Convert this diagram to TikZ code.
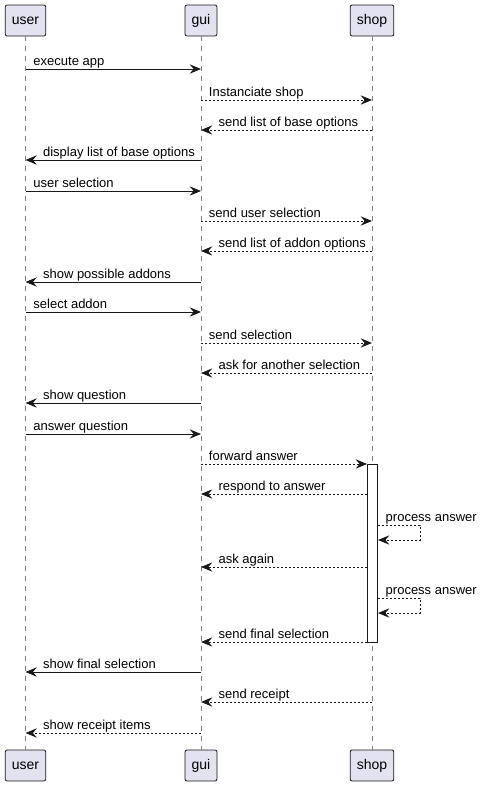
\documentclass[tikz,border=0pt]{standalone}
\usepackage{fontspec}
\setmainfont{Liberation Sans}
\usetikzlibrary{arrows.meta}
\definecolor{pfill}{RGB}{226,226,240}
\definecolor{ink}{RGB}{24,24,24}
\begin{document}
\begin{tikzpicture}[x=0.75pt,y=-0.75pt,
  part/.style={draw=ink,fill=pfill,rounded corners=1.5pt,line width=0.6pt,
    minimum height=23.25pt,inner xsep=5pt,font=\fontsize{10.5}{12}\selectfont},
  life/.style={draw=ink!55,line width=0.6pt,dash pattern=on 3.75pt off 3.75pt},
  sol/.style={draw=ink,line width=0.75pt,-{Stealth[length=8.5pt,width=7pt,inset=3pt]}},
  dsh/.style={sol,dash pattern=on 1.5pt off 1.5pt},
  lblr/.style={anchor=base west,inner sep=0pt,font=\fontsize{9.75}{12}\selectfont,xshift=5.6pt,yshift=3pt},
  lbll/.style={anchor=base west,inner sep=0pt,font=\fontsize{9.75}{12}\selectfont,xshift=12.8pt,yshift=3pt},
  act/.style={draw=ink,fill=white,line width=0.75pt}]
\useasboundingbox (0,0) rectangle (481,786);
% participants
\node[part] (u1) at (25.5,20.5) {user};
\node[part] (g1) at (201,20.5) {gui};
\node[part] (s1) at (372,20.5) {shop};
\node[part] (u2) at (25.5,765.5) {user};
\node[part] (g2) at (201,765.5) {gui};
\node[part] (s2) at (372,765.5) {shop};
\draw[life] (u1) -- (u2);
\draw[life] (g1) -- (g2);
\draw[life] (s1) -- (s2);
% activation
\node[act,minimum width=7.5pt,minimum height=133.5pt,inner sep=0pt] (a) at (372.5,553) {};
% messages
\draw[sol] (u1 |- 0,69) -- (g1 |- 0,69) node[lblr,pos=0] {execute app};
\draw[dsh] (g1 |- 0,100) -- (s1 |- 0,100) node[lblr,pos=0] {Instanciate shop};
\draw[dsh] (s1 |- 0,130) -- (g1 |- 0,130) node[lbll,pos=1] {send list of base options};
\draw[sol] (g1 |- 0,160) -- (u1 |- 0,160) node[lbll,pos=1] {display list of base options};
\draw[sol] (u1 |- 0,191) -- (g1 |- 0,191) node[lblr,pos=0] {user selection};
\draw[dsh] (g1 |- 0,221) -- (s1 |- 0,221) node[lblr,pos=0] {send user selection};
\draw[dsh] (s1 |- 0,251) -- (g1 |- 0,251) node[lbll,pos=1] {send list of addon options};
\draw[sol] (g1 |- 0,282) -- (u1 |- 0,282) node[lbll,pos=1] {show possible addons};
\draw[sol] (u1 |- 0,312) -- (g1 |- 0,312) node[lblr,pos=0] {select addon};
\draw[dsh] (g1 |- 0,343) -- (s1 |- 0,343) node[lblr,pos=0] {send selection};
\draw[dsh] (s1 |- 0,373) -- (g1 |- 0,373) node[lbll,pos=1] {ask for another selection};
\draw[sol] (g1 |- 0,403) -- (u1 |- 0,403) node[lbll,pos=1] {show question};
\draw[sol] (u1 |- 0,434) -- (g1 |- 0,434) node[lblr,pos=0] {answer question};
\draw[dsh] (g1 |- 0,464) -- (a.west |- 0,464) node[lblr,pos=0] {forward answer};
\draw[dsh] (a.west |- 0,494) -- (g1 |- 0,494) node[lbll,pos=1] {respond to answer};
\draw[dsh] (a.east |- 0,525) -- (420,525) -- (420,540) -- (a.east |- 0,540);
\node[lblr] at (a.east |- 0,525) {process answer};
\draw[dsh] (a.west |- 0,567) -- (g1 |- 0,567) node[lbll,pos=1] {ask again};
\draw[dsh] (a.east |- 0,598) -- (420,598) -- (420,613) -- (a.east |- 0,613);
\node[lblr] at (a.east |- 0,598) {process answer};
\draw[dsh] (a.west |- 0,642) -- (g1 |- 0,642) node[lbll,pos=1] {send final selection};
\draw[sol] (g1 |- 0,672) -- (u1 |- 0,672) node[lbll,pos=1] {show final selection};
\draw[dsh] (s1 |- 0,702) -- (g1 |- 0,702) node[lbll,pos=1] {send receipt};
\draw[dsh] (g1 |- 0,733) -- (u1 |- 0,733) node[lbll,pos=1] {show receipt items};
\end{tikzpicture}
\end{document}
